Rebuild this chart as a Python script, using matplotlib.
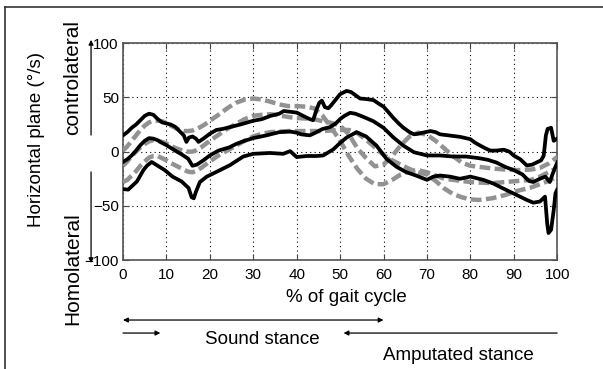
import matplotlib
matplotlib.use("Agg")
import matplotlib.pyplot as plt
from matplotlib.lines import Line2D

# gait cycle (%) and angular velocity (deg/s)
amp_hi_x = [0, 1, 2, 3, 4, 5, 6, 7, 8, 9, 10, 11, 12, 13, 14, 14.6, 15.2, 16, 16.8, 17.4, 18.5, 20, 21.5, 23, 25, 27,
            30, 32, 34, 36, 37, 38, 40, 41.5, 43, 43.8, 44.5, 45.2, 45.8, 46.5, 47.3, 48, 49, 50, 51.5, 52.5, 54.6,
            56, 57.7, 59, 60, 61, 62.3, 63.5, 64.6, 66, 67, 68, 69.2, 70.8, 72, 73, 75, 77.7, 80, 81, 82.3, 83.5,
            84.6, 86, 87.7, 89, 90, 91.5, 93, 94.2, 95.4, 96.3, 96.9, 97.4, 97.8, 98.6, 99.2, 100]
amp_hi_y = [15, 18, 22, 25, 29, 33, 35, 34, 30, 27, 26, 25, 23, 19, 15, 9, 13, 14, 12, 9, 12, 16.5, 20, 21, 23, 25,
            28.5, 30, 33, 35, 37.5, 37, 36, 33, 30, 29, 38, 45, 47, 41, 40, 43, 48, 53, 56, 55, 49,
            48.5, 47.5, 44, 41.5, 37, 31, 26, 22, 18, 16, 16.5, 17.6, 19, 18, 16, 15, 13.6, 11.5, 8.5, 5.5, 3,
            1, 1, 1.8, 0, -3.6, -7, -12.7, -12, -9.7, -8, -3.6, 15, 21, 22, 10, 12]

amp_mid_x = [0, 1, 2, 3, 4, 5, 6, 7, 8, 9, 10, 11, 12, 13.5, 15, 16, 17, 18.5, 20, 22, 24.5, 26, 28, 30, 33, 36,
             38.5, 40, 41, 43, 44.6, 46, 47.6, 49, 50, 51, 52.3, 53.5, 55.4, 57.7, 60, 62.3, 64.6, 67, 70, 73, 76,
             79, 82, 84, 86, 88, 90, 92, 93.5, 94.5, 96, 97.3, 98.3, 99, 100]
amp_mid_y = [-9.5, -7, -3.5, 1, 6, 10, 12.5, 12, 10.5, 8, 6, 3.5, 1, -2.5, -6.5, -13, -12, -8, -3.5, 1, 4, 7, 10,
             12.5, 15, 18, 18.5, 17.5, 16, 15, 18, 21, 22.5, 26, 30, 33, 35.8, 35, 32, 28, 22, 13, 5.5, -0.5, -3.5,
             -3.5, -4.5, -4.5, -6, -7.5, -10, -14, -17, -21, -27, -28, -25, -23, -28, -20, -10]

amp_lo_x = [0, 1.2, 2, 3.2, 4.7, 5.5, 6.6, 7.8, 9.6, 11.4, 13.5, 15.1, 15.8, 16.3, 16.8, 17.7, 19.3, 21.6, 24.6,
            27.7, 30, 33.8, 36.9, 38.5, 40, 42.3, 44.6, 46.1, 48.4, 50, 51.5, 53.8, 56, 58.4, 60.7, 63, 65.3, 67.5,
            70, 71.5, 73, 75.3, 77.6, 80, 83, 85.3, 87.6, 90.7, 93, 94.5, 96, 97.2, 97.7, 98, 98.6, 99.2, 99.6, 100]
amp_lo_y = [-34.5, -35, -32, -27.5, -17, -13, -9.5, -12.5, -17, -23, -27.5, -33.5, -42, -43, -37, -28, -23, -18.5,
            -12.5, -4.5, -2, -1.2, -2, 0.5, -5, -4, -4, -3.5, 2, 8, 13, 18, 14, 5.5, -6.7, -14, -19, -22, -26, -23,
            -22, -23, -25, -23, -26, -29.4, -34, -40, -44.5, -47, -46, -41.5, -66, -75, -72, -54, -38.5, -35]

ctrl_x = [0, 1, 2, 3, 4, 5, 6, 7, 8, 9, 10, 11, 12, 13, 14, 15, 16, 17, 18, 19, 20,
          22, 24, 26, 28, 30, 32, 34, 36, 38, 40, 42, 44, 46, 48, 50, 52, 54, 56, 58, 60,
          62, 64, 66, 68, 70, 72, 74, 76, 78, 80, 82, 85, 88, 91, 94, 96, 98, 100]
ctrl_a = [1, 5, 10, 15, 20, 24, 27, 28.5, 28.5, 28, 26.5, 24, 22, 20, 19, 19, 19.5, 21, 23, 25.5, 28.5,
          34, 40, 45, 48, 49, 48, 46, 43.5, 42, 42, 41.5, 40, 33, 22, 10, -4, -16, -25, -30, -30,
          -26, -21, -18, -17, -19, -22, -25, -26, -27, -28, -28.5, -29, -28, -27, -26, -23, -19, -15]
ctrl_b = [-13, -9, -4, 0, 4, 7, 9.5, 10.5, 10, 9, 7.5, 5.5, 3.5, 2, 0.5, 0, 0, 1.5, 4, 7, 10,
          15.5, 21, 25.5, 30, 33, 34, 34.5, 33.5, 32, 31, 30.5, 30, 28, 26.5, 24, 16, 3, -6, -13.5, -12,
          -4, 6, 14, 17.5, 15.5, 10, 3, -4, -10, -13, -14, -15.5, -16.5, -17, -16.5, -15, -11, -5]
ctrl_c = [-28, -26, -22, -18, -13, -9, -5.5, -4, -4, -6, -8, -10.5, -12.5, -14.5, -16.5, -18.5, -19, -17.5, -15,
          -12, -9,
          -3.5, 1, 5.5, 10, 14, 16.5, 18, 18.5, 19, 19, 19, 19, 19, 19.5, 20, 20, 17, 11, 4, -3,
          -8, -12, -16, -19, -21, -27, -34, -39, -42, -44, -44.5, -43, -40, -36, -33, -30, -27, -23]

x_ticks = list(range(0, 101, 10))
y_ticks = [-100, -50, 0, 50, 100]

text_font = ["Liberation Sans", "DejaVu Sans"]
tick_font = ["Liberation Sans Narrow", "Liberation Sans", "DejaVu Sans"]

fig = plt.figure(figsize=(6.03, 3.69), dpi=100)
ax = fig.add_axes([0.204, 0.295, 0.72, 0.588])

for xs, ys in [(ctrl_x, ctrl_a), (ctrl_x, ctrl_b), (ctrl_x, ctrl_c)]:
    ax.plot(xs, ys, color="#929292", lw=3.2, linestyle=(0, (2.4, 1.0)), zorder=3)
for xs, ys in [(amp_hi_x, amp_hi_y), (amp_mid_x, amp_mid_y), (amp_lo_x, amp_lo_y)]:
    ax.plot(xs, ys, color="black", lw=2.7, solid_joinstyle="round", zorder=4)

ax.set_xlim(0, 100)
ax.set_ylim(-100, 100)
ax.set_xticks(x_ticks)
ax.set_yticks(y_ticks)
ax.grid(True, color="black", linestyle=(0, (1, 3)), lw=0.8)
ax.tick_params(direction="in", top=True, right=True, length=4, width=0.8, color="#444444")
ax.tick_params(axis="x", pad=6)
ax.tick_params(axis="y", pad=3)
for lbl in ax.get_xticklabels() + ax.get_yticklabels():
    lbl.set_family(tick_font)
    lbl.set_fontsize(11)
for sp in ax.spines.values():
    sp.set_color("#555555")
    sp.set_linewidth(1.2)

# labels under the axis, placed in data x / axes y
trans = ax.get_xaxis_transform()
ax.text(51.4, -0.17, "% of gait cycle", transform=trans, ha="center", va="center",
        fontsize=13.5, family=text_font)
ax.text(32, -0.364, "Sound stance", transform=trans, ha="center", va="center",
        fontsize=13.5, family=text_font)
ax.text(77.2, -0.438, "Amputated stance", transform=trans, ha="center", va="center",
        fontsize=13.5, family=text_font)

arrow = dict(color="black", lw=0.9, mutation_scale=7, shrinkA=0, shrinkB=0)
ax.annotate("", xy=(60, -0.276), xytext=(0, -0.276), xycoords=trans, textcoords=trans,
            arrowprops=dict(arrowstyle="<|-|>", **arrow), annotation_clip=False)
ax.annotate("", xy=(8.6, -0.336), xytext=(0, -0.336), xycoords=trans, textcoords=trans,
            arrowprops=dict(arrowstyle="-|>", **arrow), annotation_clip=False)
ax.annotate("", xy=(50.8, -0.336), xytext=(100, -0.336), xycoords=trans, textcoords=trans,
            arrowprops=dict(arrowstyle="-|>", **arrow), annotation_clip=False)

# y axis labels and direction arrows
fig.text(0.06, 0.623, "Horizontal plane (°/s)", rotation=90, ha="center", va="center",
         fontsize=13.5, family=text_font)
fig.text(0.121, 0.789, "controlateral", rotation=90, ha="center", va="center",
         fontsize=15, family=text_font)
fig.text(0.121, 0.271, "Homolateral", rotation=90, ha="center", va="center",
         fontsize=15, family=text_font)
fig_arrow = dict(arrowstyle="-|>", color="black", lw=0.9, mutation_scale=7, shrinkA=0, shrinkB=0)
ax.annotate("", xy=(0.151, 0.892), xytext=(0.151, 0.634), xycoords="figure fraction",
            arrowprops=fig_arrow, annotation_clip=False)
ax.annotate("", xy=(0.151, 0.287), xytext=(0.151, 0.534), xycoords="figure fraction",
            arrowprops=fig_arrow, annotation_clip=False)

# picture frame
fig.add_artist(Line2D([0.008, 0.008], [0.0, 0.981], transform=fig.transFigure, color="#333333", lw=1.2))
fig.add_artist(Line2D([0.008, 1.0], [0.981, 0.981], transform=fig.transFigure, color="#333333", lw=1.2))

fig.savefig("out.png", dpi=100)
